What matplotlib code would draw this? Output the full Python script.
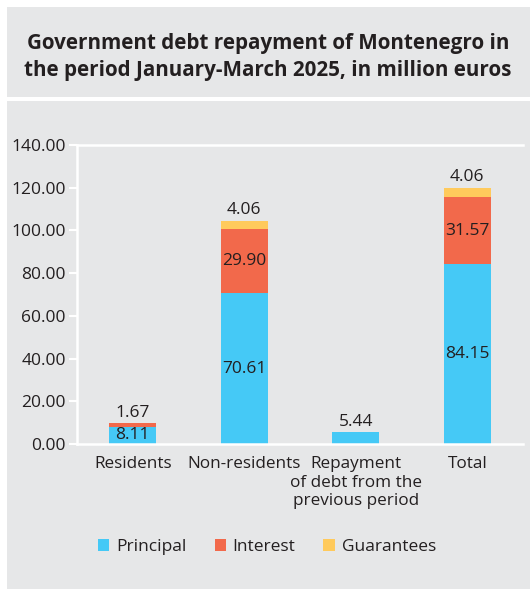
import matplotlib
matplotlib.use("Agg")
import matplotlib.pyplot as plt
from matplotlib.patches import Rectangle
import numpy as np

categories = ["Residents", "Non-residents", "Repayment\nof debt from the\nprevious period", "Total"]
principal = [8.11, 70.61, 5.44, 84.15]
interest = [1.67, 29.90, 0.0, 31.57]
guarantees = [0.0, 4.06, 0.0, 4.06]
yticks = [0, 20, 40, 60, 80, 100, 120, 140]

c_prin = "#45c9f6"
c_int = "#f2694b"
c_guar = "#ffca5c"
grey = "#e6e7e8"
txt = "#231f20"

plt.rcParams['font.family'] = ['Open Sans', 'DejaVu Sans']

W, H = 530, 589
fig = plt.figure(figsize=(W / 100, H / 100), dpi=100)
fig.patch.set_facecolor("white")
# grey panels
fig.patches.append(Rectangle((7 / W, 1 - 97 / H), 1, 90 / H, transform=fig.transFigure,
                             facecolor=grey, edgecolor="none", zorder=-10))
fig.patches.append(Rectangle((7 / W, 0), 1, 1 - 101 / H, transform=fig.transFigure,
                             facecolor=grey, edgecolor="none", zorder=-10))

fig.text(268 / W, 1 - 57 / H,
         "Government debt repayment of Montenegro in\nthe period January-March 2025, in million euros",
         ha="center", va="center", fontsize=14.9, fontweight="bold", color=txt, linespacing=1.42)

ax = fig.add_axes([77 / W, 1 - 444 / H, (523 - 77) / W, (444 - 145) / H])
ax.set_facecolor(grey)
x = np.arange(len(categories))
p = np.array(principal)
i = np.array(interest)
g = np.array(guarantees)
bw = 0.42
ax.bar(x, p, bw, color=c_prin, label="Principal")
ax.bar(x, i, bw, bottom=p, color=c_int, label="Interest")
ax.bar(x, g, bw, bottom=p + i, color=c_guar, label="Guarantees")

ax.set_xlim(-0.5, 3.5)
ax.set_ylim(0, 140)
ax.set_yticks(yticks)
ax.set_yticklabels([f"{v:.2f}" for v in yticks])
ax.set_xticks(x)
ax.set_xticklabels(categories, linespacing=1.2)
ax.tick_params(axis="y", colors="white", labelcolor=txt, labelsize=12.5, length=6, width=1.5, pad=2)
ax.tick_params(axis="x", length=0, labelcolor=txt, labelsize=12.3, pad=9)
for s in ["left", "bottom", "top"]:
    ax.spines[s].set_color("white")
    ax.spines[s].set_linewidth(1.8)
ax.spines["right"].set_visible(False)

fs = 12.5
for k in range(len(x)):
    top = p[k] + i[k] + g[k]
    if g[k] > 0:
        ax.text(x[k], top + 1.3, f"{g[k]:.2f}", ha="center", va="bottom", fontsize=fs, color=txt)
        ax.text(x[k], p[k] + i[k] / 2, f"{i[k]:.2f}", ha="center", va="center", fontsize=fs, color=txt)
        ax.text(x[k], p[k] / 2, f"{p[k]:.2f}", ha="center", va="center", fontsize=fs, color=txt)
    elif i[k] > 0:
        ax.text(x[k], top + 1.0, f"{i[k]:.2f}", ha="center", va="bottom", fontsize=fs, color=txt)
        ax.text(x[k], p[k] / 2, f"{p[k]:.2f}", ha="center", va="center", fontsize=fs, color=txt)
    else:
        ax.text(x[k], top + 1.3, f"{p[k]:.2f}", ha="center", va="bottom", fontsize=fs, color=txt)

leg = fig.legend(loc="center", bbox_to_anchor=(267 / W, 1 - 547 / H), ncol=3, frameon=False,
                 fontsize=12.5, handlelength=0.65, handleheight=0.65, handletextpad=0.4,
                 columnspacing=1.6)
for t in leg.get_texts():
    t.set_color(txt)

fig.savefig("out.png", dpi=100)
